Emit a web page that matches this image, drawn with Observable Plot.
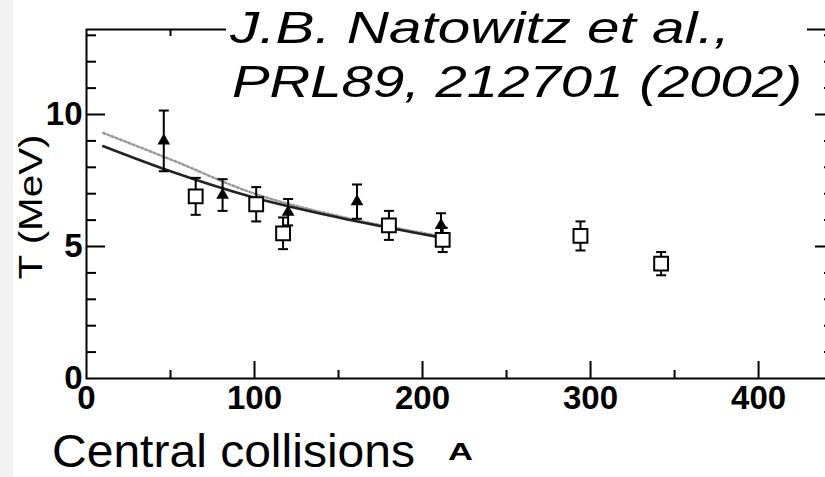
<!DOCTYPE html>
<html>
<head>
<meta charset="utf-8">
<script src="https://cdn.jsdelivr.net/npm/d3@7"></script>
<script src="https://cdn.jsdelivr.net/npm/@observablehq/plot@0.6"></script>
<style>
html, body { margin: 0; padding: 0; background: #fff; overflow: hidden; width: 825px; height: 477px; }
#wrap { position: relative; width: 825px; height: 477px; overflow: hidden; }
#chart { position: absolute; left: 0; top: 0; }
#overlay { position: absolute; left: 0; top: 0; pointer-events: none; font-family: "Liberation Sans", Arial, Helvetica, sans-serif; }
</style>
</head>
<body>
<div id="wrap">
  <div id="chart"></div>
  <svg id="overlay" width="825" height="477">
    <rect x="0" y="0" width="13" height="477" fill="#f1f1f1"></rect>
    <rect x="226" y="0" width="581" height="112" fill="#fff"></rect>
    <text x="230" y="43" font-size="45" font-style="italic" textLength="500" lengthAdjust="spacingAndGlyphs">J.B. Natowitz et al.,</text>
    <text x="232" y="97" font-size="45" font-style="italic" textLength="570" lengthAdjust="spacingAndGlyphs">PRL89, 212701 (2002)</text>
    <text transform="translate(42,207) rotate(-90)" text-anchor="middle" font-size="33" textLength="145" lengthAdjust="spacingAndGlyphs">T (MeV)</text>
    <text x="52" y="467" font-size="46" textLength="363" lengthAdjust="spacingAndGlyphs">Central collisions</text>
    <text x="448" y="460" font-size="24" font-weight="bold" textLength="25" lengthAdjust="spacingAndGlyphs">A</text>
  </svg>
</div>
<script>
// Open squares
const sqA   = [65, 101, 117, 180, 212, 294, 342];
const sqT   = [6.9, 6.6, 5.5, 5.8, 5.25, 5.4, 4.35];
const sqErr = [0.7, 0.65, 0.6, 0.55, 0.46, 0.55, 0.44];
// Filled triangles
const trA   = [46, 81, 120, 161, 211];
const trT   = [9.0, 6.95, 6.3, 6.7, 5.8];
const trErr = [1.15, 0.6, 0.5, 0.65, 0.46];
// Fit curves
const solidA  = [10, 50, 100, 150, 210];
const solidT  = [8.8, 7.85, 6.85, 6.1, 5.35];
const dottedA = [10, 50, 100, 150, 210];
const dottedT = [9.3, 8.3, 7.0, 6.15, 5.4];
// Ticks
const xLabels = [0, 100, 200, 300, 400];
const xMajor  = [100, 200, 300, 400];
const xMinor  = [50, 150, 250, 350];
const yLabels = [0, 5, 10];
const yMajor  = [5, 10];
const yMinor  = [1, 2, 3, 4, 6, 7, 8, 9, 11, 12, 13];

const squares = sqA.map((a, i) => ({A: a, T: sqT[i], lo: sqT[i] - sqErr[i], hi: sqT[i] + sqErr[i]}));
const tris    = trA.map((a, i) => ({A: a, T: trT[i], lo: trT[i] - trErr[i], hi: trT[i] + trErr[i]}));
const solid   = solidA.map((a, i) => ({A: a, T: solidT[i]}));
const dotted  = dottedA.map((a, i) => ({A: a, T: dottedT[i]}));
const caps = [...squares, ...tris].flatMap(d => [{A: d.A, T: d.lo}, {A: d.A, T: d.hi}]);

const capSymbol = {
  draw(ctx, size) {
    const w = Math.sqrt(size / Math.PI);
    ctx.moveTo(-w, 0);
    ctx.lineTo(w, 0);
  }
};

const W = 835, H = 477, mL = 86, mR = 1, mT = 29, mB = 99;
const iW = W - mL - mR, iH = H - mT - mB;

const chart = Plot.plot({
  width: W, height: H,
  marginLeft: mL, marginRight: mR, marginTop: mT, marginBottom: mB,
  x: {domain: [0, 445.2]},
  y: {domain: [0, 13.22]},
  style: {background: "transparent", maxWidth: "none", fontFamily: "'Liberation Sans', Arial, Helvetica, sans-serif", fontSize: "33px", fontWeight: "bold", color: "#000"},
  marks: [
    Plot.line(dotted, {x: "A", y: "T", curve: "monotone-x", stroke: "#999", strokeWidth: 2.5, strokeDasharray: "2,2.5"}),
    Plot.line(solid, {x: "A", y: "T", curve: "monotone-x", stroke: "#222", strokeWidth: 2.6}),
    Plot.ruleX(squares, {x: "A", y1: "lo", y2: "hi", stroke: "#000", strokeWidth: 2}),
    Plot.ruleX(tris, {x: "A", y1: "lo", y2: "hi", stroke: "#000", strokeWidth: 2}),
    Plot.dot(caps, {x: "A", y: "T", symbol: capSymbol, r: 5, stroke: "#000", strokeWidth: 2, fill: "none"}),
    Plot.dot(squares, {x: "A", y: "T", symbol: "square", r: 7.8, fill: "#fff", stroke: "#000", strokeWidth: 2}),
    Plot.dot(tris, {x: "A", y: "T", symbol: "triangle", r: 4.7, fill: "#000", stroke: "none"}),
    // inward ticks: bottom / top
    Plot.tickX(xMajor, {x: d => d, insetTop: iH - 17, stroke: "#000", strokeWidth: 2}),
    Plot.tickX(xMinor, {x: d => d, insetTop: iH - 8, stroke: "#000", strokeWidth: 2}),
    Plot.tickX(xMajor, {x: d => d, insetBottom: iH - 17, stroke: "#000", strokeWidth: 2}),
    Plot.tickX(xMinor, {x: d => d, insetBottom: iH - 7, stroke: "#000", strokeWidth: 2}),
    // inward ticks: left / right
    Plot.tickY(yMajor, {y: d => d, insetRight: iW - 19, stroke: "#000", strokeWidth: 2}),
    Plot.tickY(yMinor, {y: d => d, insetRight: iW - 10, stroke: "#000", strokeWidth: 2}),
    Plot.tickY(yMajor, {y: d => d, insetLeft: iW - 19, stroke: "#000", strokeWidth: 2}),
    Plot.tickY(yMinor, {y: d => d, insetLeft: iW - 10, stroke: "#000", strokeWidth: 2}),
    Plot.frame({stroke: "#000", strokeWidth: 2}),
    Plot.axisX({ticks: xLabels, tickSize: 0, tickPadding: 7, label: null, fontSize: 33, fontWeight: "bold"}),
    Plot.axisY({ticks: yLabels, tickSize: 0, tickPadding: 4, label: null, fontSize: 33, fontWeight: "bold"})
  ]
});
document.getElementById("chart").appendChild(chart);
</script>
</body>
</html>
